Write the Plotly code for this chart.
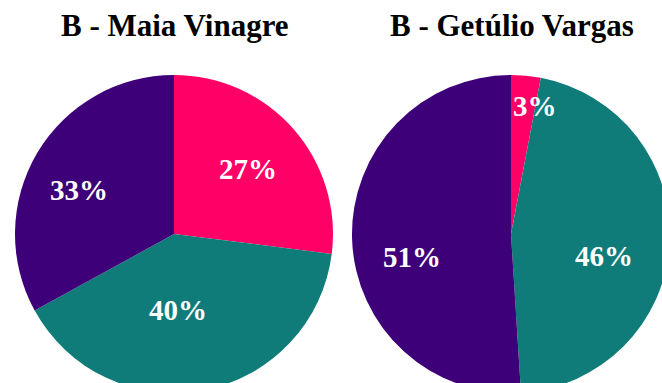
import math
import plotly.graph_objects as go

# Data
categories = ["A", "B", "C"]
titles = ["B - Maia Vinagre", "B - Getúlio Vargas"]
maia_values = [27, 40, 33]
getulio_values = [3, 46, 51]
colors = ["#FF0066", "#107C7A", "#3E0078"]

# Layout / style (pixels in a figure larger than the window; overflow hidden crops it)
W, H = 680, 400
R = 159
centers = [(174, 234), (511, 234)]
label_radius = [[0.62, 0.48, 0.66], [0.82, 0.60, 0.64]]   # fraction of radius
label_angle_shift = [[0, 8, -6], [5, 10, -11]]            # degrees off the slice bisector

fig = go.Figure()
label_font = dict(family="Liberation Serif", size=29, color="white", weight="bold")

for i, vals in enumerate([maia_values, getulio_values]):
    cx, cy = centers[i]
    fig.add_trace(go.Pie(
        labels=categories, values=vals,
        sort=False, direction="clockwise", rotation=0,
        marker=dict(colors=colors, line=dict(width=0)),
        textinfo="none", showlegend=False, hoverinfo="label+percent",
        domain=dict(x=[(cx - R) / W, (cx + R) / W], y=[1 - (cy + R) / H, 1 - (cy - R) / H]),
    ))
    total = sum(vals)
    cum = 0
    for j, v in enumerate(vals):
        bis = (cum + v / 2) / total * 360 + label_angle_shift[i][j]
        cum += v
        d = label_radius[i][j] * R
        px = cx + d * math.sin(math.radians(bis))
        py = cy - d * math.cos(math.radians(bis))
        fig.add_annotation(text=f"{round(v / total * 100)}%", x=px / W, y=1 - py / H,
                           xref="paper", yref="paper", xanchor="center", yanchor="middle",
                           showarrow=False, font=label_font)

title_font = dict(family="Liberation Serif", size=31, color="black", weight="bold")
for t, (cx, _) in zip(titles, centers):
    fig.add_annotation(text=t, x=(cx + 1) / W, y=1 - 25 / H, xref="paper", yref="paper",
                       xanchor="center", yanchor="middle", showarrow=False, font=title_font)

fig.update_layout(
    width=W, height=H,
    margin=dict(l=0, r=0, t=0, b=0),
    paper_bgcolor="white",
    plot_bgcolor="white",
)

fig.write_html(
    "out.html",
    config={"displayModeBar": False},
    post_script="document.documentElement.style.overflow='hidden';document.body.style.overflow='hidden';document.body.style.margin='0';",
)
